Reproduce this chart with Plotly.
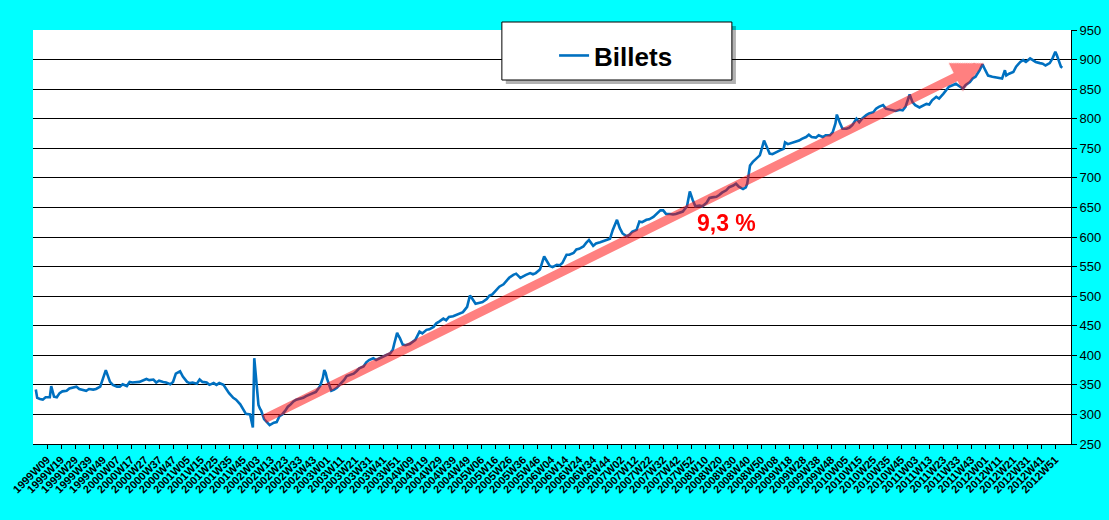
import plotly.graph_objects as go

# ISO week categories 1999W01 .. 2013W09 (2004 and 2009 have 53 weeks)
years = list(range(1999, 2014))
long_years = [2004, 2009]

categories = []
for yr in years:
    n_weeks = 53 if yr in long_years else 52
    for w in range(1, n_weeks + 1):
        categories.append(f"{yr}W{w:02d}")
categories = categories[:categories.index("2013W09") + 1]

# one label every 10 weeks, as on the original axis
tick_labels = categories[categories.index("1999W09"):categories.index("2012W51") + 1:10]

# banknotes in circulation
weeks = [
    "1999W01", "1999W02", "1999W04", "1999W06", "1999W08", "1999W11", "1999W12", "1999W14", "1999W16", "1999W18",
    "1999W20", "1999W23", "1999W25", "1999W27", "1999W30", "1999W32", "1999W35", "1999W37", "1999W39", "1999W42",
    "1999W44", "1999W47", "1999W49", "1999W51",
    "2000W02", "2000W04", "2000W07", "2000W09", "2000W11", "2000W14", "2000W16", "2000W18", "2000W23", "2000W26",
    "2000W28", "2000W30", "2000W33", "2000W35", "2000W37", "2000W40", "2000W42", "2000W45", "2000W47", "2000W49",
    "2000W52",
    "2001W02", "2001W05", "2001W07", "2001W09", "2001W12", "2001W14", "2001W16", "2001W19", "2001W21", "2001W24",
    "2001W26", "2001W28", "2001W31", "2001W33", "2001W35", "2001W38", "2001W40", "2001W43", "2001W45", "2001W47",
    "2001W50", "2001W52",
    "2002W01", "2002W02", "2002W03", "2002W04", "2002W05", "2002W06", "2002W08", "2002W10", "2002W12", "2002W15",
    "2002W17", "2002W19", "2002W21", "2002W23", "2002W25", "2002W27", "2002W29", "2002W31", "2002W33", "2002W36",
    "2002W38", "2002W40", "2002W42", "2002W45", "2002W48", "2002W50", "2002W51", "2002W52",
    "2003W01", "2003W02", "2003W04", "2003W06", "2003W08", "2003W11", "2003W13", "2003W15", "2003W18", "2003W20",
    "2003W22", "2003W24", "2003W27", "2003W29", "2003W31", "2003W34", "2003W36", "2003W39", "2003W41", "2003W43",
    "2003W46", "2003W48", "2003W49", "2003W51", "2003W52",
    "2004W01", "2004W03", "2004W05", "2004W08", "2004W10", "2004W12", "2004W15", "2004W17", "2004W20", "2004W22",
    "2004W25", "2004W27", "2004W29", "2004W32", "2004W34", "2004W36", "2004W39", "2004W41", "2004W44", "2004W46",
    "2004W49", "2004W51", "2004W52", "2004W53",
    "2005W02", "2005W05", "2005W07", "2005W10", "2005W12", "2005W14", "2005W17", "2005W19", "2005W22", "2005W24",
    "2005W26", "2005W29", "2005W31", "2005W34", "2005W36", "2005W38", "2005W41", "2005W43", "2005W45", "2005W48",
    "2005W50", "2005W51",
    "2006W01", "2006W03", "2006W05", "2006W08", "2006W10", "2006W12", "2006W15", "2006W17", "2006W20", "2006W22",
    "2006W24", "2006W27", "2006W29", "2006W31", "2006W34", "2006W36", "2006W39", "2006W41", "2006W44", "2006W46",
    "2006W48", "2006W51",
    "2007W01", "2007W03", "2007W06", "2007W08", "2007W10", "2007W13", "2007W15", "2007W17", "2007W20", "2007W22",
    "2007W25", "2007W27", "2007W30", "2007W32", "2007W34", "2007W37", "2007W39", "2007W41", "2007W44", "2007W46",
    "2007W49", "2007W51",
    "2008W01", "2008W03", "2008W06", "2008W08", "2008W11", "2008W13", "2008W15", "2008W18", "2008W20", "2008W22",
    "2008W25", "2008W27", "2008W30", "2008W32", "2008W34", "2008W37", "2008W39", "2008W40", "2008W41", "2008W42",
    "2008W44", "2008W46", "2008W49", "2008W50", "2008W52",
    "2009W02", "2009W04", "2009W06", "2009W09", "2009W11", "2009W14", "2009W15", "2009W17", "2009W20", "2009W22",
    "2009W25", "2009W27", "2009W30", "2009W32", "2009W34", "2009W37", "2009W39", "2009W42", "2009W44", "2009W47",
    "2009W49", "2009W51", "2009W52",
    "2010W01", "2010W03", "2010W06", "2010W08", "2010W10", "2010W13", "2010W15", "2010W17", "2010W20", "2010W22",
    "2010W25", "2010W27", "2010W29", "2010W32", "2010W34", "2010W37", "2010W39", "2010W41", "2010W44", "2010W46",
    "2010W48", "2010W50", "2010W51",
    "2011W01", "2011W03", "2011W06", "2011W08", "2011W11", "2011W13", "2011W15", "2011W18", "2011W20", "2011W23",
    "2011W25", "2011W27", "2011W30", "2011W32", "2011W35", "2011W37", "2011W39", "2011W42", "2011W44", "2011W46",
    "2011W49", "2011W51",
    "2012W01", "2012W03", "2012W06", "2012W08", "2012W11", "2012W13", "2012W15", "2012W16", "2012W18", "2012W21",
    "2012W23", "2012W26", "2012W28", "2012W30", "2012W33", "2012W35", "2012W37", "2012W40", "2012W42", "2012W44",
    "2012W47", "2012W49", "2012W51", "2012W52",
    "2013W01", "2013W03", "2013W04",
]
billets = [
    342, 328, 326, 325, 329, 329, 348, 330, 329, 336,
    339, 340, 344, 345, 347, 343, 341, 340, 343, 342,
    343, 347, 361, 375,
    355, 350, 347, 347, 351, 348, 355, 354, 355, 358,
    360, 358, 359, 354, 357, 355, 354, 351, 355, 369,
    373,
    364, 355, 353, 354, 352, 359, 355, 354, 350, 353,
    350, 353, 350, 342, 336, 328, 325, 317, 308, 301,
    300, 278,
    395, 365, 340, 316, 310, 306, 292, 286, 282, 286,
    287, 297, 300, 306, 313, 317, 322, 325, 326, 328,
    331, 333, 335, 338, 348, 362, 375, 370,
    360, 352, 340, 342, 345, 353, 358, 365, 367, 369,
    373, 378, 381, 388, 392, 395, 392, 396, 398, 400,
    403, 410, 420, 438, 433,
    429, 418, 417, 419, 423, 426, 440, 437, 443, 444,
    448, 454, 457, 462, 459, 465, 466, 468, 471, 473,
    482, 501, 498, 494,
    487, 489, 490, 495, 501, 503, 511, 516, 520, 525,
    531, 536, 538, 531, 534, 536, 539, 537, 539, 545,
    560, 567,
    559, 551, 549, 553, 552, 556, 570, 570, 573, 579,
    580, 584, 590, 595, 585, 589, 591, 593, 595, 597,
    612, 629,
    615, 606, 601, 604, 609, 612, 626, 625, 629, 630,
    634, 638, 645, 645, 639, 639, 638, 639, 642, 643,
    652, 677,
    663, 652, 653, 652, 658, 666, 667, 668, 671, 675,
    679, 684, 687, 690, 685, 681, 684, 690, 705, 721,
    727, 731, 738, 746, 763,
    752, 741, 740, 744, 746, 749, 760, 757, 759, 760,
    763, 766, 769, 773, 769, 768, 772, 769, 772, 772,
    777, 792, 807,
    794, 783, 783, 785, 789, 800, 794, 800, 806, 809,
    811, 817, 820, 823, 817, 815, 814, 813, 815, 814,
    820, 832, 841,
    828, 823, 819, 821, 825, 824, 831, 837, 834, 842,
    848, 854, 857, 859, 854, 851, 857, 862, 868, 871,
    882, 892,
    882, 873, 871, 870, 869, 868, 882, 873, 876, 879,
    888, 896, 899, 896, 902, 899, 896, 894, 893, 890,
    894, 902, 913, 908,
    902, 888, 886,
]

# trend arrow and its label
arrow_start = ("2002W07", 291)
arrow_end = ("2011W52", 894)
growth_label = ("2008W25", 624, "9,3 %")

FONT = "Liberation Sans, Arial, sans-serif"

fig = go.Figure()
fig.add_trace(go.Scatter(
    x=weeks, y=billets, mode="lines", name="Billets",
    line=dict(color="#0070C0", width=2.6),
))

fig.add_annotation(
    x=categories.index(arrow_end[0]), y=arrow_end[1],
    ax=categories.index(arrow_start[0]), ay=arrow_start[1],
    xref="x", yref="y", axref="x", ayref="y",
    text="", showarrow=True, arrowhead=2, arrowsize=0.7, arrowwidth=9,
    arrowcolor="#FF0000", opacity=0.5, standoff=0, startstandoff=0,
)
fig.add_annotation(
    x=categories.index(growth_label[0]), y=growth_label[1], text=growth_label[2],
    showarrow=False, xanchor="center", yanchor="middle",
    font=dict(family=FONT, size=23, color="#FF0000", weight="bold"),
)

# legend frame with shadow
fig.add_shape(type="rect", xref="paper", yref="paper", x0=0.4555, x1=0.6772, y0=0.8695, y1=1.0096,
              fillcolor="rgba(0,0,0,0.3)", line=dict(width=0), layer="above")
fig.add_shape(type="rect", xref="paper", yref="paper", x0=0.4517, x1=0.6733, y0=0.8792, y1=1.0193,
              fillcolor="white", line=dict(color="black", width=1), layer="above")

fig.update_layout(
    width=1109, height=520,
    margin=dict(l=33, r=38, t=30, b=76, autoexpand=False),
    paper_bgcolor="#00FFFF", plot_bgcolor="white",
    font=dict(family=FONT, color="black"),
    showlegend=True,
    legend=dict(x=0.502, y=0.995, xanchor="left", yanchor="top",
                bgcolor="rgba(0,0,0,0)", borderwidth=0,
                font=dict(family=FONT, size=26, color="black", weight="bold")),
    xaxis=dict(
        type="category", categoryorder="array", categoryarray=categories,
        range=[-2, 739.2], automargin=False,
        tickmode="array", tickvals=tick_labels, ticktext=tick_labels,
        tickangle=-45, tickfont=dict(family=FONT, size=11, color="black", weight="bold"),
        ticks="outside", ticklen=4, tickcolor="black",
        showline=True, linecolor="black", linewidth=1,
        showgrid=False, zeroline=False,
    ),
    yaxis=dict(
        side="right", range=[250, 950], dtick=50, tick0=250, automargin=False,
        tickfont=dict(family=FONT, size=13, color="black"),
        ticks="outside", ticklen=5, tickcolor="black",
        showline=True, linecolor="black", linewidth=1,
        showgrid=True, gridcolor="black", gridwidth=1, zeroline=False,
    ),
)

# the page body has a default 8px margin; remove it so the figure fills the window
fig.write_html("out.html", config={"displayModeBar": False},
               post_script="document.body.style.margin = '0px';")
